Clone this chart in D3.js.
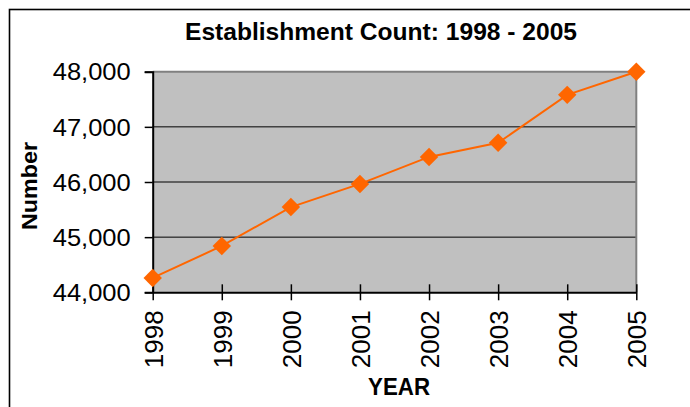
<!DOCTYPE html>
<html>
<head>
<meta charset="utf-8">
<script src="https://cdn.jsdelivr.net/npm/d3@7"></script>
<style>
  body { margin: 0; background: #fff; }
  text { font-family: "Liberation Sans", Arial, sans-serif; fill: #000; }
</style>
</head>
<body>
<div id="chart"></div>
<script>
// data
var years = ["1998", "1999", "2000", "2001", "2002", "2003", "2004", "2005"];
var counts = [44260, 44840, 45545, 45965, 46455, 46710, 47580, 48000];
var yTicks = [44000, 45000, 46000, 47000, 48000];

// plot area
var margin = {top: 71.7, right: 690 - 636.3, bottom: 407 - 292.3, left: 152.7},
    width = 690 - margin.left - margin.right,
    height = 407 - margin.top - margin.bottom;

var svg = d3.select("#chart")
            .append("svg")
              .attr("width", 690)
              .attr("height", 407);

// outer chart border (runs off to the right and bottom)
svg.append("rect")
   .attr("x", 9.5).attr("y", 9.5)
   .attr("width", 700).attr("height", 420)
   .attr("fill", "none")
   .attr("stroke", "#000")
   .attr("stroke-width", 1.6);

var g = svg.append("g")
           .attr("transform", "translate(" + margin.left + "," + margin.top + ")");

var x = d3.scalePoint()
          .domain(years)
          .range([0, width])
          .padding(0);

var y = d3.scaleLinear()
          .domain([44000, 48000])
          .range([height, 0]);

// grey plot background
g.append("rect")
 .attr("width", width)
 .attr("height", height)
 .attr("fill", "#c0c0c0");

// gridlines
g.selectAll(".grid")
 .data(yTicks.filter(function(d) { return d > 44000 && d < 48000; }))
 .enter().append("line")
   .attr("x1", 0).attr("x2", width)
   .attr("y1", function(d) { return y(d); })
   .attr("y2", function(d) { return y(d); })
   .attr("stroke", "#000")
   .attr("stroke-width", 1);

// top and right frame in grey
g.append("path")
 .attr("d", "M0,0H" + width + "V" + height)
 .attr("fill", "none")
 .attr("stroke", "#808080")
 .attr("stroke-width", 2);

// y axis
var yAxis = g.append("g")
             .call(d3.axisLeft(y).tickValues(yTicks).tickSize(8).tickFormat(d3.format(",")));
yAxis.select(".domain").attr("stroke", "#000").attr("stroke-width", 2);
yAxis.selectAll(".tick line").attr("stroke", "#000").attr("stroke-width", 1.5);
yAxis.selectAll("text")
     .attr("x", -22)
     .attr("dy", "0.36em")
     .attr("textLength", 78)
     .attr("lengthAdjust", "spacingAndGlyphs")
     .style("font-size", "23px")
     .style("font-family", "Liberation Sans, Arial, sans-serif");

// x axis, ticks cross the axis line
var xAxis = g.append("g")
             .attr("transform", "translate(0," + height + ")")
             .call(d3.axisBottom(x).tickSizeInner(8).tickSizeOuter(0));
xAxis.select(".domain").attr("stroke", "#000").attr("stroke-width", 2);
xAxis.selectAll(".tick line")
     .attr("y1", -8).attr("y2", 8)
     .attr("stroke", "#000").attr("stroke-width", 1.5);
xAxis.selectAll("text")
     .attr("transform", "rotate(-90)")
     .attr("text-anchor", "end")
     .attr("x", -18)
     .attr("y", 0)
     .attr("dy", "0.36em")
     .style("font-size", "26px")
     .style("font-family", "Liberation Sans, Arial, sans-serif");

// series line
var line = d3.line()
             .x(function(d, i) { return x(years[i]); })
             .y(function(d) { return y(d); });

g.append("path")
 .datum(counts)
 .attr("d", line)
 .attr("fill", "none")
 .attr("stroke", "#ff6600")
 .attr("stroke-width", 2);

// diamond markers
g.selectAll(".marker")
 .data(counts)
 .enter().append("path")
   .attr("d", d3.symbol(d3.symbolSquare, 170))
   .attr("transform", function(d, i) {
     return "translate(" + x(years[i]) + "," + y(d) + ") rotate(45)";
   })
   .attr("fill", "#ff6600");

// labels
svg.append("text")
   .attr("x", 381)
   .attr("y", 40)
   .attr("text-anchor", "middle")
   .attr("textLength", 392)
   .attr("lengthAdjust", "spacingAndGlyphs")
   .style("font-size", "24px")
   .style("font-weight", "bold")
   .text("Establishment Count: 1998 - 2005");

svg.append("text")
   .attr("x", 399)
   .attr("y", 394.5)
   .attr("text-anchor", "middle")
   .attr("textLength", 62)
   .attr("lengthAdjust", "spacingAndGlyphs")
   .style("font-size", "23px")
   .style("font-weight", "bold")
   .text("YEAR");

svg.append("text")
   .attr("transform", "translate(36.5,186) rotate(-90)")
   .attr("text-anchor", "middle")
   .attr("textLength", 88)
   .attr("lengthAdjust", "spacingAndGlyphs")
   .style("font-size", "22px")
   .style("font-weight", "bold")
   .text("Number");
</script>
</body>
</html>
